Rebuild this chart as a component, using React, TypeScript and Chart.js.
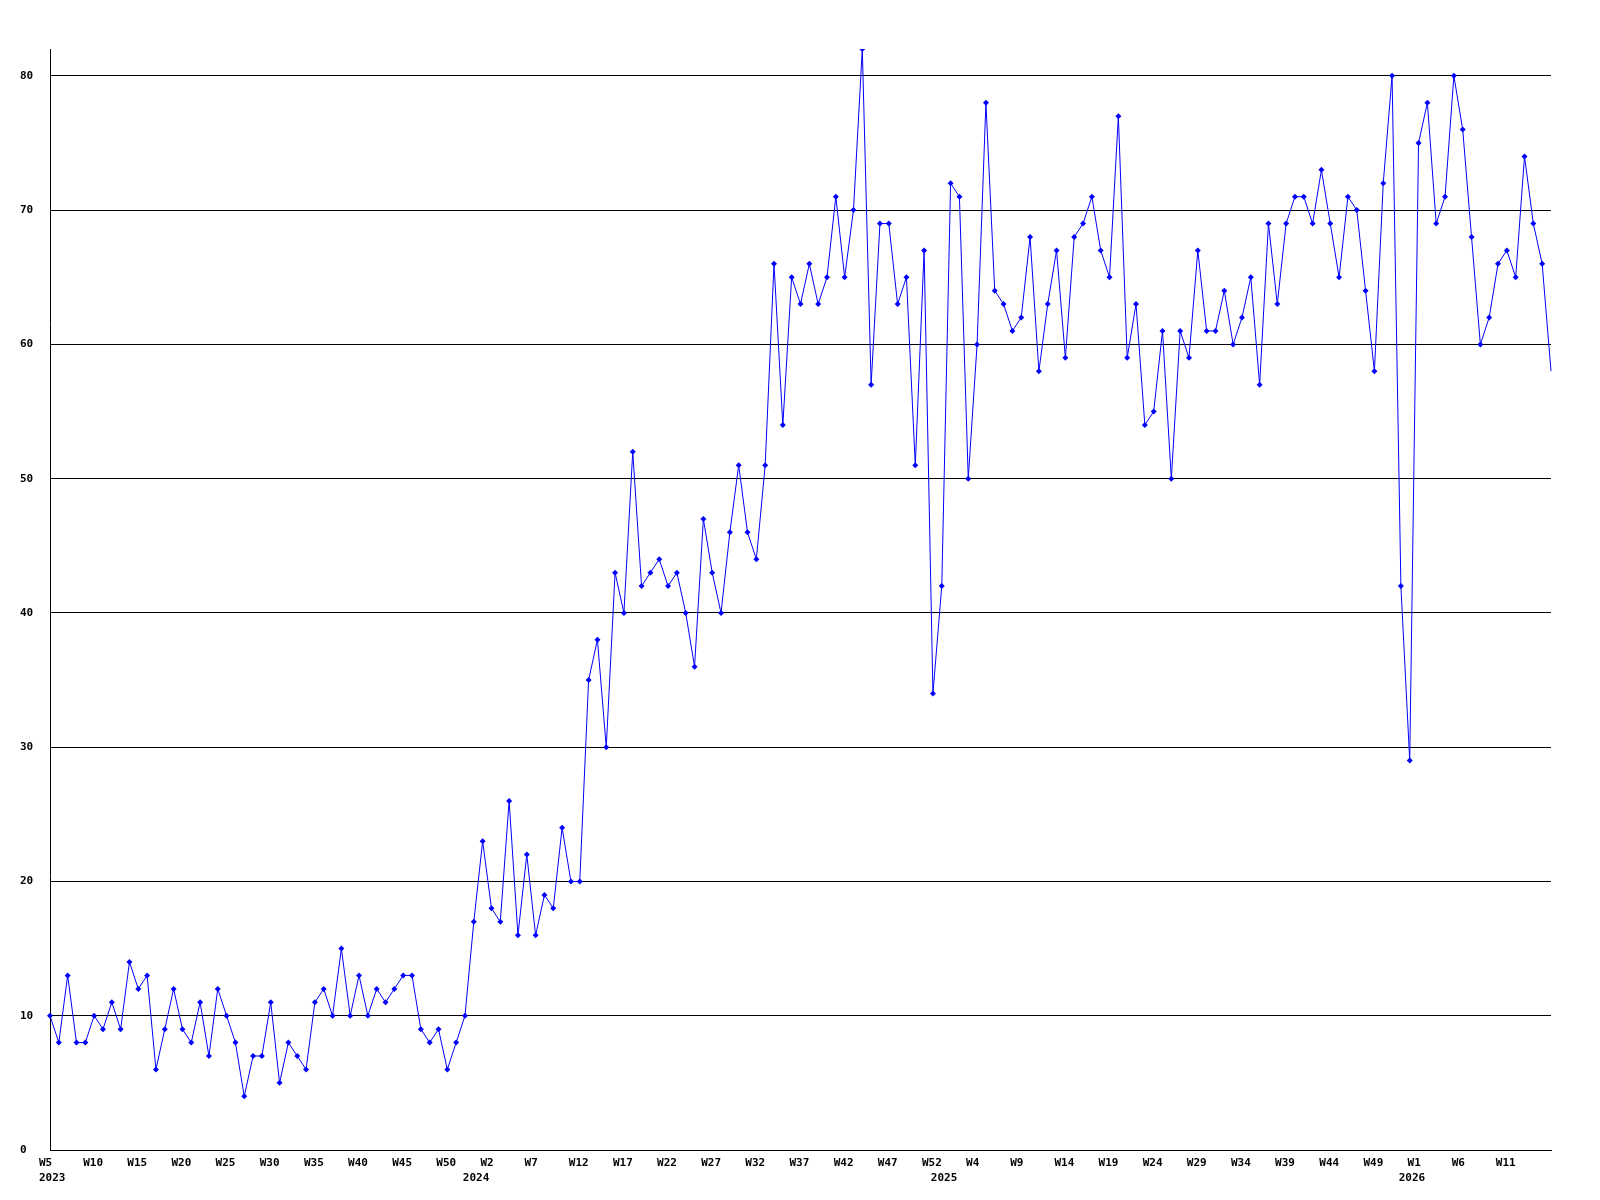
import React, { useEffect, useRef } from "react";
import { Chart, registerables } from "chart.js";

Chart.register(...registerables);

// Year segments of the weekly series (week numbering as shown on the axis)
const segmentYears = [2023, 2024, 2025, 2026];
const segmentFirstWeek = [5, 0, 0, 0];
const segmentLastWeek = [52, 52, 52, 16];

// Weekly values, one per week, in order
const weeklyCounts = [
  10, 8, 13, 8, 8, 10, 9, 11, 9, 14,
  12, 13, 6, 9, 12, 9, 8, 11, 7, 12,
  10, 8, 4, 7, 7, 11, 5, 8, 7, 6,
  11, 12, 10, 15, 10, 13, 10, 12, 11, 12,
  13, 13, 9, 8, 9, 6, 8, 10,
  17, 23, 18, 17, 26, 16, 22, 16, 19, 18, 24, 20,
  20, 35, 38, 30, 43, 40, 52, 42, 43, 44,
  42, 43, 40, 36, 47, 43, 40, 46, 51, 46,
  44, 51, 66, 54, 65, 63, 66, 63, 65, 71,
  65, 70, 82, 57, 69, 69, 63, 65, 51, 67,
  34,
  42, 72, 71, 50, 60, 78, 64, 63, 61,
  62, 68, 58, 63, 67, 59, 68, 69, 71, 67,
  65, 77, 59, 63, 54, 55, 61, 50, 61, 59,
  67, 61, 61, 64, 60, 62, 65, 57, 69, 63,
  69, 71, 71, 69, 73, 69, 65, 71, 70, 64,
  58, 72, 80, 42,
  29, 75, 78, 69, 71, 80, 76, 68, 60, 62,
  66, 67, 65, 74, 69, 66, 58,
];

const yTickStep = 10;
const yMax = 82;
const xLabelEvery = 5;

// Build categories
const weekLabels: string[] = [];
const yearLabels: string[] = [];
segmentYears.forEach((yr, s) => {
  for (let w = segmentFirstWeek[s]; w <= segmentLastWeek[s]; w++) {
    weekLabels.push("W" + w);
    yearLabels.push(w === segmentFirstWeek[s] ? String(yr) : "");
  }
});

const FONT = { family: "'DejaVu Sans Mono', monospace", size: 11, weight: "bold" as const, lineHeight: 1.4 };

export default function App() {
  const ref = useRef<HTMLCanvasElement | null>(null);

  useEffect(() => {
    if (!ref.current) return;
    const lastIdx = weeklyCounts.length - 1;
    const chart = new Chart(ref.current, {
      type: "line",
      data: {
        labels: weekLabels,
        datasets: [
          {
            data: weeklyCounts,
            borderColor: "#0000ff",
            backgroundColor: "#0000ff",
            borderWidth: 1,
            tension: 0,
            fill: false,
            pointStyle: "rectRot",
            pointRadius: (ctx: any) => (ctx.dataIndex === lastIdx ? 0 : 3),
            pointBackgroundColor: "#0000ff",
            pointBorderWidth: 0,
          },
        ],
      },
      options: {
        responsive: false,
        animation: false,
        devicePixelRatio: 1,
        layout: { padding: { left: 12, top: 41, right: 41, bottom: 0 } },
        plugins: { legend: { display: false }, tooltip: { enabled: false } },
        scales: {
          x: {
            type: "category",
            offset: false,
            grid: { display: false, drawTicks: false },
            border: { display: true, color: "#000000", width: 1 },
            afterFit: (scale: any) => {
              scale.height = 42;
            },
            ticks: {
              autoSkip: false,
              maxRotation: 0,
              minRotation: 0,
              align: "start",
              labelOffset: -11,
              padding: 5,
              color: "#000000",
              font: FONT,
              callback: (_v: any, i: number) => [
                i % xLabelEvery === 0 && i < lastIdx ? weekLabels[i] : "",
                yearLabels[i],
              ],
            },
          },
          y: {
            type: "linear",
            min: 0,
            max: yMax,
            grid: { color: "#000000", lineWidth: 1, drawTicks: false },
            border: { display: true, color: "#000000", width: 1 },
            afterFit: (scale: any) => {
              scale.width = 30;
            },
            ticks: {
              stepSize: yTickStep,
              includeBounds: false,
              crossAlign: "far",
              color: "#000000",
              font: FONT,
            },
          },
        },
      },
    });
    return () => chart.destroy();
  }, []);

  return <canvas ref={ref} width={1584} height={1184} style={{ display: "block" }} />;
}
